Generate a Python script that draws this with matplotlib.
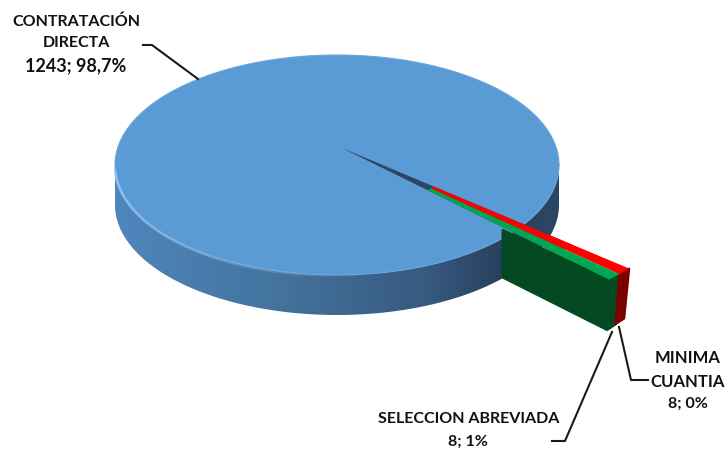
import matplotlib
matplotlib.use("Agg")
import matplotlib.pyplot as plt
from matplotlib.colors import LinearSegmentedColormap
from matplotlib.patches import Polygon
import numpy as np

categories = ["CONTRATACIÓN\nDIRECTA", "MINIMA\nCUANTIA", "SELECCION ABREVIADA"]
values = [1243, 8, 8]
value_labels = ["1243; 98,7%", "8; 0%", "8; 1%"]

plt.rcParams['font.family'] = ['Lato', 'DejaVu Sans']

fig = plt.figure(figsize=(7.27, 4.51), dpi=100)
ax = fig.add_axes([0, 0, 1, 1])
ax.set_xlim(0, 727)
ax.set_ylim(451, 0)
ax.axis("off")

# pie geometry, in pixels
cx, cy, a, b, depth = 337, 165, 222, 110, 40
apex_x, apex_y = 342, 148
squash = 0.5
R_small, r_start, r_wall = 375, 120, 226
wall = 50

# slice angles come from the values
total = sum(values)
span_red = values[1] / total * 360
span_green = values[2] / total * 360
mid = 42.3
ang_top = mid - span_red
ang_mid = mid
ang_low = mid + span_green


def pt(r, ang):
    t = np.radians(ang)
    return apex_x + r * np.cos(t), apex_y + r * squash * np.sin(t)


t = np.linspace(0, 2 * np.pi, 400)
ex = cx + a * np.cos(t)
ey = cy + b * np.sin(t)

# side wall with horizontal gradient
front = np.linspace(0, np.pi, 200)
side_x = np.r_[cx + a * np.cos(front), cx + a * np.cos(front[::-1])]
side_y = np.r_[cy + b * np.sin(front) + depth, cy + b * np.sin(front[::-1])]
side = Polygon(np.c_[side_x, side_y], closed=True, fc="none", ec="none")
ax.add_patch(side)
cmap = LinearSegmentedColormap.from_list("side", [(0, "#4f86bd"), (0.35, "#44749f"),
                                                  (0.7, "#375a80"), (0.88, "#283f5c"),
                                                  (1, "#2c4766")])
im = ax.imshow(np.linspace(0, 1, 256)[None, :], extent=(cx - a, cx + a, cy + b + depth, cy - b),
               cmap=cmap, aspect="auto", zorder=1)
im.set_clip_path(side)
ax.set_xlim(0, 727)
ax.set_ylim(451, 0)

# top surface and light rim, fading out towards the front
ax.fill(ex, ey, color="#5b9bd5", lw=0, zorder=2)
ax.plot(ex, ey, color="#6aa5db", lw=0.8, zorder=3)
rim = np.linspace(np.pi * 0.45, np.pi * 0.99, 60)
for i in range(len(rim) - 1):
    ax.plot(cx + a * np.cos(rim[i:i + 2]), cy + b * np.sin(rim[i:i + 2]) + 1,
            color="#9cc6ee", lw=1.8, alpha=i / len(rim), zorder=3, solid_capstyle="butt")

# dark gap in the blue top
ax.fill(*zip((apex_x, apex_y), pt(300, ang_top), pt(300, ang_low)), color="#2b4563", lw=0, zorder=3)

# exploded slices: walls first, then the tops
low_in, low_out, mid_out, top_out = pt(r_wall, ang_low), pt(R_small, ang_low), pt(R_small, ang_mid), pt(R_small, ang_top)
ax.fill([low_in[0], low_out[0], mid_out[0], mid_out[0] - 4, low_out[0] - 2, low_in[0]],
        [low_in[1] + 3, low_out[1], mid_out[1], mid_out[1] + wall, low_out[1] + wall, low_in[1] + wall],
        color="#034a22", ec="#034a22", lw=2, joinstyle="round", zorder=4)
ax.fill([mid_out[0], top_out[0], top_out[0] - 5, mid_out[0] - 4],
        [mid_out[1], top_out[1], top_out[1] + wall, mid_out[1] + wall],
        color="#7d0000", ec="#7d0000", lw=1.5, joinstyle="round", zorder=4)
ax.fill(*zip(pt(r_start, ang_top), top_out, mid_out, pt(r_start, ang_mid)),
        color="#ff0000", lw=0, zorder=5)
ax.fill(*zip(pt(r_start, ang_mid), mid_out, low_out, pt(r_start, ang_low)),
        color="#00a651", lw=0, zorder=6)

# leader lines
ax.plot([143, 152, 198], [45, 45, 79], color="#1a1a1a", lw=1.5, zorder=3.5)
ax.plot([619, 631, 648], [327, 380, 380], color="#1a1a1a", lw=1.5, zorder=3.5)
ax.plot([612, 565, 552], [332, 441, 441], color="#1a1a1a", lw=1.5, zorder=3.5)

# labels
txt = dict(color="#111111", fontweight="bold", ha="center", va="center", zorder=8)
ax.text(76, 32, categories[0], fontsize=11.5, linespacing=1.62, **txt)
ax.text(76, 66, value_labels[0], fontsize=13, **txt)
ax.text(688, 370, categories[1], fontsize=12, linespacing=1.55, **txt)
ax.text(688, 404, value_labels[1], fontsize=11.5, **txt)
ax.text(469, 419, categories[2], fontsize=11.5, **txt)
ax.text(468, 442, value_labels[2], fontsize=11.5, **txt)

plt.savefig("out.png", dpi=100)
